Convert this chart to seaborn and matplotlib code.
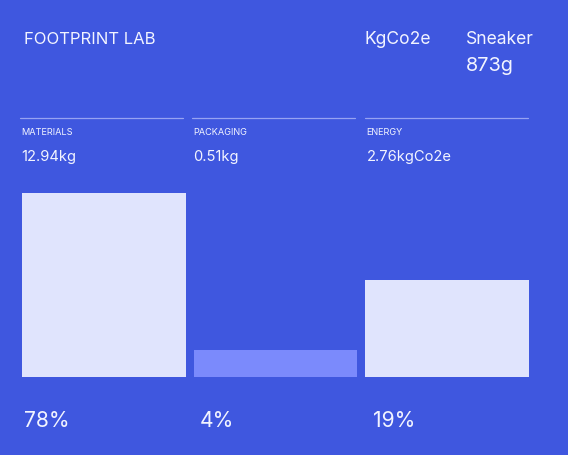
import numpy as np
import pandas as pd
import matplotlib
matplotlib.use("Agg")
import matplotlib.pyplot as plt
import seaborn as sns

categories = ["MATERIALS", "PACKAGING", "ENERGY"]
amounts = ["12.94kg", "0.51kg", "2.76kgCo2e"]
shares = ["78%", "4%", "19%"]
bar_height = [184, 27, 97]  # bar heights as drawn (relative units)
title = "FOOTPRINT LAB"
unit = "KgCo2e"
product = "Sneaker"
product_weight = "873g"

BG = "#3f57df"
BAR = "#e0e4fd"
BAR_DIM = "#7b8afc"
TXT = "#f2f4ff"
RULE = "#97a3f2"

sns.set_theme(style="white")
plt.rcParams["font.family"] = ["Inter", "DejaVu Sans"]

W, H = 568, 456
fig = plt.figure(figsize=(W / 100, H / 100), dpi=100, facecolor=BG)


def fx(px):
    return px / W


def fy(py):
    return 1 - py / H


df = pd.DataFrame({"category": categories, "height": bar_height})

# axes placed so bars land where they sit on the card
ax = fig.add_axes([fx(18.25), fy(378), fx(514.5), (378 - 194) / H])
sns.barplot(data=df, x="category", y="height", hue="category",
            palette=[BAR, BAR_DIM, BAR], width=0.956, legend=False,
            saturation=1, linewidth=0, edgecolor="none", ax=ax)
ax.set_xlim(-0.5, 2.5)
ax.set_ylim(0, max(bar_height))
ax.set_axis_off()
ax.patch.set_alpha(0)

# header
fig.text(fx(23.5), fy(44), title, fontsize=12, color=TXT, va="baseline")
fig.text(fx(364.5), fy(44.5), unit, fontsize=12.6, color=TXT, va="baseline")
fig.text(fx(465.5), fy(44.5), product, fontsize=12.6, color=TXT, va="baseline")
fig.text(fx(465.5), fy(71), product_weight, fontsize=14.3, color=TXT, va="baseline")

# columns
col_left = [20, 192, 365]
for i, left in enumerate(col_left):
    fig.add_artist(plt.Line2D([fx(left), fx(left + 163)], [fy(118.5), fy(118.5)],
                              color=RULE, lw=0.9, transform=fig.transFigure))
    fig.text(fx(left + 1.5), fy(135), categories[i], fontsize=6.6, color=TXT,
             va="baseline")
    fig.text(fx(left + 1.5), fy(160.5), amounts[i], fontsize=10.6, color=TXT,
             va="baseline")

# percentages below the bars
share_pad = [1.5, 6.5, 7.5]
for i, s in enumerate(shares):
    x0 = ax.transData.transform((i - 0.478, 0))[0]
    fig.text(fx(x0 + share_pad[i]), fy(426.7), s, fontsize=15.2, color=TXT,
             va="baseline")

fig.savefig("out.png", dpi=100, facecolor=BG)
